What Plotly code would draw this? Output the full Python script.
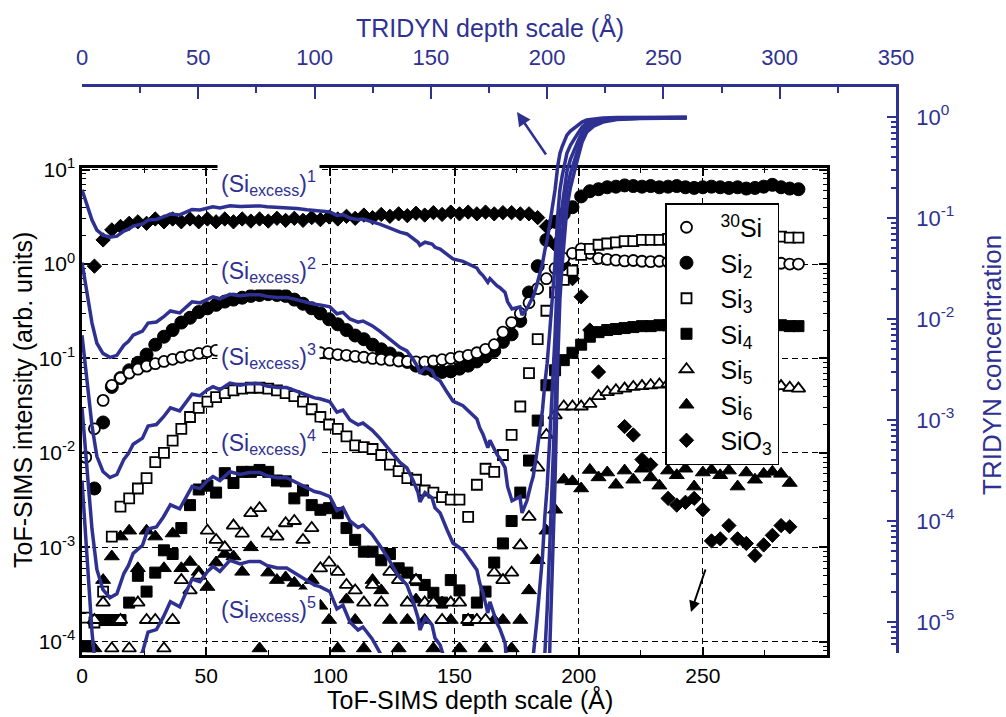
import numpy as np
import plotly.graph_objects as go

# ---------------- data ----------------
DEPTH_SIMS = [1.5, 5.0, 8.5, 12.0, 15.5, 19.0, 22.5, 26.0, 29.5, 33.0,
              36.5, 40.0, 43.5, 47.0, 50.5, 54.0, 57.5, 61.0, 64.5, 68.0,
              71.5, 75.0, 78.5, 82.0, 85.5, 89.0, 92.5, 96.0, 99.5, 103.0,
              106.5, 110.0, 113.5, 117.0, 120.5, 124.0, 127.5, 131.0, 134.5, 138.0,
              141.5, 145.0, 148.5, 152.0, 155.5, 159.0, 162.5, 166.0, 169.5, 173.0,
              176.5, 180.0, 183.5, 187.0, 190.5, 194.0, 197.5, 201.0, 204.5, 208.0,
              211.5, 215.0, 218.5, 222.0, 225.5, 229.0, 232.5, 236.0, 239.5, 243.0,
              246.5, 250.0, 253.5, 257.0, 260.5, 264.0, 267.5, 271.0, 274.5, 278.0,
              281.5, 285.0, 288.5]

SI30 = [0.009, 0.018, 0.036, 0.052, 0.062, 0.07, 0.077, 0.083, 0.088, 0.093,
        0.098, 0.103, 0.108, 0.113, 0.118, 0.122, 0.125, 0.128, 0.13, 0.13,
        0.128, 0.126, 0.124, 0.122, 0.12, 0.118, 0.116, 0.115, 0.113, 0.11,
        0.108, 0.105, 0.103, 0.1, 0.098, 0.096, 0.094, 0.093, 0.092, 0.092,
        0.094, 0.097, 0.1, 0.104, 0.108, 0.115, 0.125, 0.14, 0.19, 0.24,
        0.3, 0.39, 0.55, 0.7, 0.9, 1.15, 1.3, 1.45, 1.3, 1.15,
        1.12, 1.1, 1.08, 1.09, 1.07, 1.06, 1.07, 1.05, 1.06, 1.05,
        1.04, 1.05, 1.04, 1.03, 1.04, 1.03, 1.02, 1.03, 1.02, 1.01,
        1.02, 1.0, 1.0]

SI2 = [None, 0.0042, 0.021, 0.05, 0.062, 0.075, 0.09, 0.11, 0.14, 0.17,
       0.2, 0.24, 0.27, 0.31, 0.34, 0.37, 0.4, 0.42, 0.44, 0.46,
       0.47, 0.48, 0.47, 0.46, 0.42, 0.38, 0.34, 0.3, 0.26, 0.23,
       0.2, 0.175, 0.16, 0.14, 0.125, 0.113, 0.1, 0.092, 0.084, 0.078,
       0.074, 0.072, 0.073, 0.078, 0.084, 0.093, 0.105, 0.12, 0.15, 0.18,
       0.25, 0.5, 0.95, 1.8, 2.8, 3.4, 4.0, 5.2, 5.9, 6.2,
       6.5, 6.6, 6.8, 6.7, 6.6, 6.7, 6.5, 6.6, 6.7, 6.5,
       6.4, 6.5, 6.6, 6.5, 6.4, 6.5, 6.3, 6.4, 6.6, 6.9,
       6.5, 6.3, 6.2]

SI3 = [1.8e-4, 1.6e-4, 3.4e-4, 1.3e-3, 2.7e-3, 3.3e-3, 4.2e-3, 5.4e-3, 8e-3, 0.01,
       0.0135, 0.018, 0.024, 0.03, 0.035, 0.039, 0.043, 0.046, 0.048, 0.049,
       0.049, 0.048, 0.046, 0.043, 0.04, 0.035, 0.029, 0.024, 0.02, 0.018,
       0.015, 0.012, 0.0115, 0.011, 0.0095, 0.0075, 0.0064, 0.0054, 0.0052, 0.004,
       0.0038, 0.0034, 0.0032, 0.0032, 0.0021, 0.0046, 0.0068, 0.0063, 0.0095, 0.0155,
       0.031, 0.07, 0.16, 0.32, 0.5, 0.68, 0.85, 1.25, 1.45, 1.6,
       1.65, 1.7, 1.75, 1.75, 1.8, 1.8, 1.8, 1.85, 1.85, 1.85,
       1.85, 1.9, 1.85, 1.9, 1.9, 1.9, 1.9, 1.95, 1.9, 1.9,
       1.95, 1.9, 1.9]

SI4 = [0.9e-4, 1.7e-4, 1.7e-4, 1.7e-4, 1.7e-4, 2.6e-4, 5e-4, 3.4e-4, 5.4e-4, 9.3e-4,
       8.5e-4, 1.6e-3, 2.8e-3, 4.1e-3, 4.5e-3, 3.8e-3, 6.1e-3, 4.8e-3, 6.3e-3, 6.3e-3,
       6.6e-3, 6.3e-3, 5.1e-3, 5.0e-3, 3.3e-3, 4.0e-3, 2.8e-3, 2.5e-3, 2.6e-3, 2.3e-3,
       1.6e-3, 1.2e-3, 9e-4, 9e-4, 7.3e-4, 8.5e-4, 6e-4, 5.4e-4, 4.5e-4, 4e-4,
       3.3e-4, 2.6e-4, 4.5e-4, 3.5e-4, 1.7e-4, 2.6e-4, 3.4e-4, 6.9e-4, 1.1e-3, 1.9e-3,
       3.8e-3, 8.3e-3, 0.022, 0.052, 0.075, 0.096, 0.115, 0.14, 0.17, 0.19,
       0.2, 0.205, 0.21, 0.215, 0.22, 0.22, 0.225, 0.225, 0.23, 0.225,
       0.23, 0.225, 0.23, 0.225, 0.22, 0.225, 0.22, 0.225, 0.22, 0.22,
       0.225, 0.22, 0.22]

SI5 = [None, 1.7e-4, 2.6e-4, 0.85e-4, 1.7e-4, 0.85e-4, 2.6e-4, 1.7e-4, 1.7e-4, 0.85e-4,
       1.7e-4, 4.5e-4, 3.5e-4, 5e-4, 1.5e-3, 1.2e-3, 1.0e-3, 1.7e-3, 1.4e-3, 2.3e-3,
       2.6e-3, 1.4e-3, 1.3e-3, 1.8e-3, 1.9e-3, 1.2e-3, 1.6e-3, 6e-4, 6.9e-4, 5.5e-4,
       4e-4, 3.5e-4, 2.6e-4, 4e-4, 2.6e-4, 5.5e-4, 4.5e-4, 2.6e-4, 4.5e-4, 2.6e-4,
       2.6e-4, 1.7e-4, 2.6e-4, 2.6e-4, 1.7e-4, 1.7e-4, 1.7e-4, 5.4e-4, 4.5e-4, 5.4e-4,
       1.05e-3, 2.1e-3, 7e-3, 0.0155, 0.025, 0.031, 0.031, 0.031, 0.033, 0.04,
       0.044, 0.046, 0.048, 0.05, 0.051, 0.052, 0.053, 0.054, 0.055, 0.054,
       0.055, 0.054, 0.055, 0.053, 0.054, 0.052, 0.053, 0.051, 0.052, 0.05,
       0.051, 0.049, 0.048]

SI6 = [0.85e-4, 0.85e-4, 4.5e-4, 8e-4, 1.3e-3, 1.5e-3, 6e-4, 1.5e-3, 1.3e-3, 6e-4,
       1.4e-3, 6e-4, 7e-4, 5.5e-4, 3.8e-4, 6.9e-4, 8.5e-4, 8e-4, 5.5e-4, 1e-3,
       0.85e-4, 5.4e-4, 4.5e-4, 4.8e-4, 4.2e-4, 3.5e-4, 4.5e-4, 2.4e-4, 1.7e-4, 0.85e-4,
       2.8e-4, 1.7e-4, 0.85e-4, 4.5e-4, 3.5e-4, 1.7e-4, 0.85e-4, 1.7e-4, 2.8e-4, 1.7e-4,
       0.85e-4, 2.6e-4, 1.7e-4, 0.85e-4, 1.7e-4, 1.7e-4, 0.85e-4, 1.7e-4, 1.7e-4, 0.85e-4,
       1.7e-4, 3.5e-4, 7.3e-4, 1.5e-3, 2.5e-3, 5.2e-3, 5e-3, 4.2e-3, 6.6e-3, 5.5e-3,
       6.2e-3, 4.6e-3, 6.5e-3, 5.2e-3, 6.8e-3, 5.5e-3, 4.5e-3, 6.5e-3, 5.8e-3, 6.8e-3,
       4.4e-3, 6.2e-3, 6.6e-3, 5.8e-3, 6.5e-3, 4.4e-3, 6.2e-3, 5.2e-3, 6.0e-3, 6.3e-3,
       6.0e-3, 4.8e-3, None]

SIO3 = [None, 0.95, 1.8, 2.3, 2.5, 2.7, 2.8, 2.7, 3.0, 2.8,
        3.0, 2.8, 3.0, 2.8, 3.0, 2.8, 3.0, 2.8, 3.0, 2.85,
        3.0, 2.85, 3.05, 2.9, 3.05, 2.9, 3.1, 2.95, 3.15, 3.0,
        3.2, 3.05, 3.3, 3.1, 3.35, 3.2, 3.4, 3.25, 3.45, 3.3,
        3.5, 3.35, 3.55, 3.4, 3.55, 3.4, 3.55, 3.4, 3.5, 3.5,
        3.4, 3.4, 3.1, 2.5, 1.6, 1.0, 0.7, 0.45, 0.2, 0.072,
        None, None, 0.019, 0.0155, 0.0085, 0.0075, None, 0.0033, 0.0028, 0.003,
        0.0033, 0.0025, 0.00117, 0.00123, 0.0017, 0.00123, 0.0011, 0.00082, 0.00106, 0.00134,
        0.0017, 0.00165, None]

# TRIDYN: log10 of the Si_excess concentration vs TRIDYN depth; curves are (Si_excess)^n
TRIDYN_DEPTH = [0, 2, 4.3, 6.4, 9, 12, 15, 18, 20, 22,
                26, 28.4, 32, 35, 38, 42, 45, 47.3, 50.7, 54,
                56.3, 59.3, 63.6, 68, 72, 76.5, 79.5, 84, 88, 92.4,
                96.7, 100, 102.3, 106.6, 109.6, 112.2, 115.2, 118.7, 120.8, 124.7,
                128, 131.6, 135.4, 136.7, 139.7, 142.3, 144.5, 145.3, 147.5, 150.5,
                151.8, 154, 157, 159.5, 163.8, 166.8, 169.8, 171, 172.4, 174.5,
                175.4, 178.4, 179.7, 181.9, 183, 184.9, 186.5, 188.3, 189.2, 191.3,
                193, 194, 195.6, 197, 198, 199, 200, 201.2, 202.2, 203.4,
                204.6, 205.5, 206.5, 207.5, 208.5, 210, 211.5, 213, 215, 217,
                220, 224, 230, 240, 260]
TRIDYN_LOG_SI_EXCESS = [-0.72, -0.87, -1.02, -1.12, -1.17, -1.19, -1.18, -1.13, -1.11, -1.08,
                        -1.06, -1.02, -1.015, -0.99, -0.96, -0.97, -0.94, -0.915, -0.92, -0.90,
                        -0.89, -0.90, -0.878, -0.885, -0.88, -0.88, -0.888, -0.893, -0.893, -0.905,
                        -0.918, -0.927, -0.93, -0.94, -0.974, -0.967, -1.0, -1.016, -1.01, -1.033,
                        -1.06, -1.092, -1.13, -1.14, -1.158, -1.198, -1.24, -1.27, -1.24, -1.257,
                        -1.29, -1.307, -1.363, -1.406, -1.429, -1.462, -1.495, -1.538, -1.57, -1.637,
                        -1.60, -1.67, -1.69, -1.736, -1.83, -1.90, -1.89, -1.88, -1.96, -1.90,
                        -1.82, -1.78, -1.66, -1.55, -1.45, -1.32, -1.22, -1.05, -0.90, -0.72,
                        -0.48, -0.36, -0.29, -0.23, -0.18, -0.14, -0.11, -0.085, -0.05, -0.03,
                        -0.018, -0.01, -0.005, -0.003, -0.002]
EXPONENTS = [1, 2, 3, 4, 5]

SIMS_XTICKS = [0, 50, 100, 150, 200, 250]
TRIDYN_XTICKS = [0, 50, 100, 150, 200, 250, 300, 350]
SIMS_DECADES = [-4, -3, -2, -1, 0, 1]
TRIDYN_DECADES = [-5, -4, -3, -2, -1, 0]

# ---------------- style ----------------
W, H = 1006, 717
BLUE = "#2e3192"
SANS = "Liberation Sans, Arial, Helvetica, sans-serif"
NB = "\u00a0\u00a0"


def px_x(p):
    return p / W


def px_y(p):
    return 1 - p / H


fig = go.Figure()

series = [
    ("Si<sub>2</sub>", SI2, "circle", "black", 13, 2),
    ("Si<sub>4</sub>", SI4, "square", "black", 11, 4),
    ("Si<sub>6</sub>", SI6, "triangle-up", "black", 13, 6),
    ("SiO<sub>3</sub>", SIO3, "diamond", "black", 11, 7),
    ("<sup>30</sup>Si", SI30, "circle", "white", 11, 1),
    ("Si<sub>3</sub>", SI3, "square", "white", 10, 3),
    ("Si<sub>5</sub>", SI5, "triangle-up", "white", 12, 5),
]
for name, vals, sym, fill, size, rank in series:
    fig.add_trace(go.Scatter(
        x=DEPTH_SIMS, y=vals, mode="markers", name=NB + name, legendrank=rank,
        marker=dict(symbol=sym, size=size, color=fill,
                    line=dict(color="black", width=1.8 if fill == "white" else 1)),
        xaxis="x", yaxis="y"))

T = np.array(TRIDYN_DEPTH)
LC = np.array(TRIDYN_LOG_SI_EXCESS)
for n in EXPONENTS:
    fig.add_trace(go.Scatter(
        x=T, y=10 ** (n * LC), mode="lines", showlegend=False,
        line=dict(color=BLUE, width=3.5), xaxis="x2", yaxis="y2"))

minor_sims = [k * 10.0 ** d for d in range(-5, 2) for k in range(2, 10)]
minor_tri = [k * 10.0 ** d for d in range(-6, 1) for k in range(2, 10)]

fig.update_layout(
    width=W, height=H, margin=dict(l=0, r=0, t=0, b=0, autoexpand=False),
    paper_bgcolor="white", plot_bgcolor="rgba(0,0,0,0)",
    font=dict(family=SANS, color="black"),
    xaxis=dict(
        domain=[px_x(82), px_x(827)], range=[0, 300], anchor="y",
        tickmode="array", tickvals=SIMS_XTICKS, ticktext=[str(v) for v in SIMS_XTICKS],
        ticks="inside", ticklen=8, tickwidth=1.5, tickcolor="black",
        showline=True, linecolor="black", linewidth=2.5, mirror="ticks",
        showgrid=True, gridcolor="black", gridwidth=1.2, griddash="6px,4px",
        zeroline=False, tickfont=dict(family=SANS, size=21, color="black"),
        minor=dict(tickmode="array", tickvals=[25, 75, 125, 175, 225, 275],
                   ticks="inside", ticklen=5, tickcolor="black", tickwidth=1.2, showgrid=False),
    ),
    yaxis=dict(
        domain=[px_y(655), px_y(168)], type="log", range=[-4.14, 1.017], anchor="x",
        tickmode="array", tickvals=[10.0 ** d for d in SIMS_DECADES],
        ticktext=["10<sup>%d</sup>" % d for d in SIMS_DECADES],
        ticks="inside", ticklen=8, tickwidth=1.5, tickcolor="black",
        showline=True, linecolor="black", linewidth=2.5, mirror="ticks",
        showgrid=True, gridcolor="black", gridwidth=1.2, griddash="6px,4px",
        zeroline=False, tickfont=dict(family=SANS, size=21, color="black"),
        minor=dict(tickmode="array", tickvals=minor_sims, ticks="inside", ticklen=4,
                   tickcolor="black", tickwidth=1.2, showgrid=False),
    ),
    xaxis2=dict(
        domain=[px_x(82), px_x(896)], range=[0, 350], anchor="y2", side="top",
        tickmode="array", tickvals=TRIDYN_XTICKS, ticktext=[str(v) for v in TRIDYN_XTICKS],
        ticks="inside", ticklen=12, tickwidth=2, tickcolor=BLUE,
        showline=True, linecolor=BLUE, linewidth=2.5, showgrid=False, zeroline=False,
        tickfont=dict(family=SANS, size=22, color=BLUE), ticklabelstandoff=10,
        minor=dict(tickmode="array", tickvals=[25, 75, 125, 175, 225, 275, 325],
                   ticks="inside", ticklen=6, tickcolor=BLUE, tickwidth=2, showgrid=False),
    ),
    yaxis2=dict(
        domain=[px_y(653), px_y(87)], type="log", range=[-5.307, 0.297], anchor="x2", side="right",
        tickmode="array", tickvals=[10.0 ** d for d in TRIDYN_DECADES],
        ticktext=["10<sup>%d</sup>" % d for d in TRIDYN_DECADES],
        ticks="inside", ticklen=9, tickwidth=2, tickcolor=BLUE,
        showline=True, linecolor=BLUE, linewidth=2.5, showgrid=False, zeroline=False,
        tickfont=dict(family=SANS, size=22, color=BLUE), ticklabelstandoff=13,
        minor=dict(tickmode="array", tickvals=minor_tri, ticks="inside", ticklen=5,
                   tickcolor=BLUE, tickwidth=1.5, showgrid=False),
    ),
    showlegend=True,
    legend=dict(x=px_x(665), y=px_y(203), xanchor="left", yanchor="top",
                bgcolor="white", bordercolor="black", borderwidth=1.5,
                font=dict(family=SANS, size=25, color="black"),
                tracegroupgap=0, itemsizing="trace"),
)

annotations = [
    dict(text="ToF-SIMS depth scale (Å)", x=px_x(470), y=px_y(699),
         font=dict(family=SANS, size=25, color="black")),
    dict(text="ToF-SIMS intensity (arb. units)", x=px_x(23), y=px_y(400), textangle=-90,
         font=dict(family=SANS, size=25, color="black")),
    dict(text="TRIDYN depth scale (Å)", x=px_x(490), y=px_y(28),
         font=dict(family=SANS, size=25, color=BLUE)),
    dict(text="TRIDYN concentration", x=px_x(992), y=px_y(365), textangle=-90,
         font=dict(family=SANS, size=26, color=BLUE)),
]
label_y = [183, 270, 356, 442, 609]
for n, ly in zip(EXPONENTS, label_y):
    annotations.append(dict(text="(Si<sub>excess</sub>)<sup>%d</sup>" % n, x=px_x(268), y=px_y(ly),
                            bgcolor="white", borderpad=3,
                            font=dict(family=SANS, size=23, color=BLUE)))
for a in annotations:
    a.update(xref="paper", yref="paper", showarrow=False, xanchor="center", yanchor="middle")

annotations.append(dict(text="", x=px_x(517), y=px_y(112), xref="paper", yref="paper",
                        ax=30, ay=44, showarrow=True, arrowhead=2, arrowsize=1.1,
                        arrowwidth=2.5, arrowcolor=BLUE))
annotations.append(dict(text="", x=px_x(691), y=px_y(612), xref="paper", yref="paper",
                        ax=15, ay=-44, showarrow=True, arrowhead=2, arrowsize=1.1,
                        arrowwidth=2, arrowcolor="black"))
fig.update_layout(annotations=annotations)

fig.write_html("out.html")
